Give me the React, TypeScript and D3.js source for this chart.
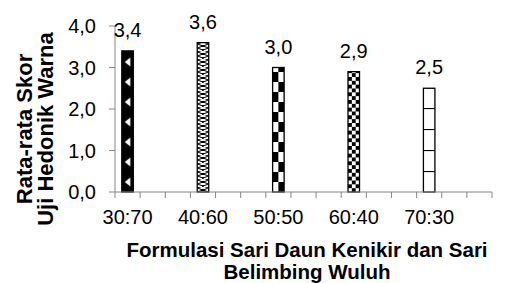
import React from 'react';
import * as d3 from 'd3';

// chart values
const formulations = ['30:70', '40:60', '50:50', '60:40', '70:30'];
const scores = [3.4, 3.6, 3.0, 2.9, 2.5];
const yTicks = [0, 1, 2, 3, 4];
// excel-style category slots: 15 slots, one labelled bar every third slot
const slotCount = 15;
const barSlots = [0, 3, 6, 9, 12];
const yTitle = ['Rata-rata Skor', 'Uji Hedonik Warna'];
const xTitle = ['Formulasi Sari Daun Kenikir dan Sari', 'Belimbing Wuluh'];

const W = 505;
const H = 283;
const plot = { left: 115, right: 492, top: 26, bottom: 192 };
const font = '"Liberation Sans", Arial, sans-serif';
const axisColor = '#868686';
const barW = 11.5;

const comma = d3
  .formatLocale({ decimal: ',', thousands: '.', grouping: [3], currency: ['', ''] })
  .format('.1f');

const App = () => {
  const x = d3
    .scaleBand<number>()
    .domain(d3.range(slotCount))
    .range([plot.left, plot.right]);
  const y = d3.scaleLinear().domain([0, 4]).range([plot.bottom, plot.top]);
  const bw = x.bandwidth();

  const bars = formulations.map((f, i) => {
    const cx = (x(barSlots[i]) as number) + bw / 2;
    return { f, v: scores[i], cx, x0: cx - barW / 2, top: y(scores[i]) };
  });

  // one fill pattern per bar, aligned to the bar's left edge and the baseline
  const pattern = (i: number, x0: number) => {
    const common = {
      id: `p${i}`,
      patternUnits: 'userSpaceOnUse',
      x: x0,
      y: plot.bottom,
    };
    if (i === 0) {
      return (
        <pattern key={i} {...common} width={barW} height={20}>
          <rect width={barW} height={20} fill="#000" />
          <polygon points={`3,10 8.5,5.5 8.5,14.5`} fill="#fff" />
        </pattern>
      );
    }
    if (i === 1) {
      return (
        <pattern key={i} {...common} width={barW} height={8}>
          <rect width={barW} height={8} fill="#fff" />
          <path
            d={`M0,0 L${barW},4 L0,8 M${barW},0 L0,4 L${barW},8`}
            stroke="#000"
            strokeWidth={1}
            fill="none"
          />
        </pattern>
      );
    }
    if (i === 2) {
      return (
        <pattern key={i} {...common} width={barW} height={20}>
          <rect width={barW} height={20} fill="#fff" />
          <rect x={0} y={0} width={barW / 2} height={10} fill="#000" />
          <rect x={barW / 2} y={10} width={barW / 2} height={10} fill="#000" />
        </pattern>
      );
    }
    if (i === 3) {
      const c = barW / 3;
      return (
        <pattern key={i} {...common} width={c * 2} height={c * 2}>
          <rect width={c * 2} height={c * 2} fill="#fff" />
          <rect x={0} y={0} width={c} height={c} fill="#000" />
          <rect x={c} y={c} width={c} height={c} fill="#000" />
        </pattern>
      );
    }
    return (
      <pattern key={i} {...common} width={barW} height={21}>
        <rect width={barW} height={21} fill="#fff" />
        <line x1={0} x2={barW} y1={0.5} y2={0.5} stroke="#000" strokeWidth={1.2} />
      </pattern>
    );
  };

  return (
    <svg
      width={W}
      height={H}
      style={{ position: 'absolute', left: 0, top: 0, background: '#fff' }}
      fontFamily={font}
    >
      <defs>{bars.map((b, i) => pattern(i, b.x0))}</defs>

      {/* bars */}
      {bars.map((b, i) => (
        <rect
          key={b.f}
          x={b.x0}
          y={b.top}
          width={barW}
          height={plot.bottom - b.top}
          fill={`url(#p${i})`}
          stroke="#000"
          strokeWidth={1.3}
        />
      ))}

      {/* y axis */}
      <line x1={plot.left} x2={plot.left} y1={plot.top} y2={plot.bottom} stroke={axisColor} />
      {yTicks.map((t) => (
        <g key={t}>
          <line x1={plot.left - 6} x2={plot.left} y1={y(t)} y2={y(t)} stroke={axisColor} />
          <text x={96} y={y(t)} dy="0.35em" textAnchor="end" fontSize={20} fill="#000">
            {comma(t)}
          </text>
        </g>
      ))}

      {/* x axis */}
      <line x1={plot.left} x2={plot.right} y1={plot.bottom} y2={plot.bottom} stroke={axisColor} />
      {d3.range(slotCount + 1).map((i) => {
        const tx = plot.left + i * bw;
        return (
          <line key={i} x1={tx} x2={tx} y1={plot.bottom} y2={plot.bottom + 6} stroke={axisColor} />
        );
      })}
      {bars.map((b) => (
        <text key={b.f} x={b.cx} y={224} textAnchor="middle" fontSize={20} fill="#000">
          {b.f}
        </text>
      ))}

      {/* data labels */}
      {bars.map((b) => (
        <text key={b.f} x={b.cx} y={b.top - 14} textAnchor="middle" fontSize={20} fill="#000">
          {comma(b.v)}
        </text>
      ))}

      {/* axis titles */}
      {yTitle.map((t, i) => (
        <text
          key={t}
          transform={`translate(${32 + i * 21},129) rotate(-90)`}
          textAnchor="middle"
          fontSize={22}
          fontWeight="bold"
          fill="#000"
        >
          {t}
        </text>
      ))}
      {xTitle.map((t, i) => (
        <text
          key={t}
          x={307}
          y={257 + i * 22}
          textAnchor="middle"
          fontSize={20.5}
          fontWeight="bold"
          fill="#000"
        >
          {t}
        </text>
      ))}
    </svg>
  );
};

export default App;
